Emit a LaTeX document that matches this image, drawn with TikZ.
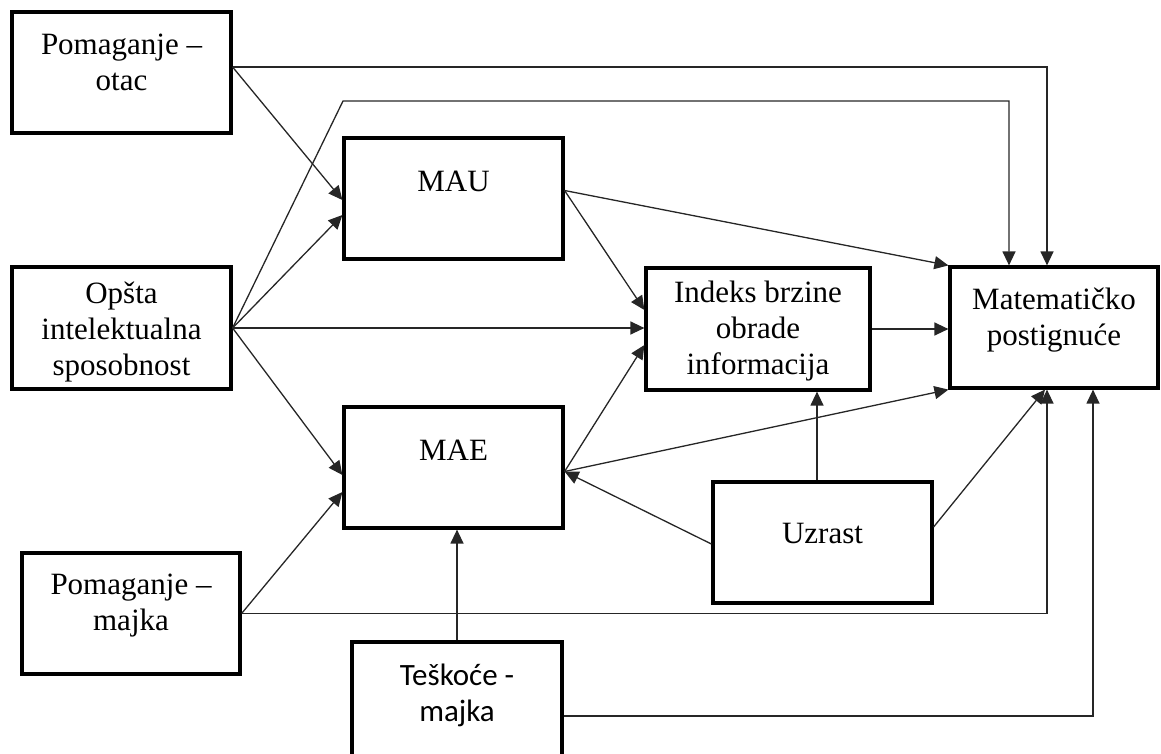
\documentclass[tikz,border=0pt]{standalone}
\usepackage{fontspec}
\setmainfont{Liberation Serif}
\newfontfamily\calibrifont{Carlito}
\usetikzlibrary{arrows.meta}
\begin{document}
\begin{tikzpicture}[x=1pt,y=-1pt,
  box/.style={draw, line width=3.2pt, inner sep=0pt},
  lbl/.style={align=center, inner sep=0pt, font=\fontsize{31}{36}\selectfont},
  link/.style={line width=1.3pt, draw=black!85},
  arr/.style={link, -{Triangle[length=14pt,width=13pt]}},
]
\useasboundingbox (0,0) rectangle (1161,753);
\clip (0,0) rectangle (1161,753);

% boxes
\node[box, minimum width=219pt, minimum height=121pt] (otac)    at (121.5,72.5)  {};
\node[box, minimum width=219pt, minimum height=122pt] (opsta)   at (121.5,328)   {};
\node[box, minimum width=218pt, minimum height=121pt] (pmajka)  at (131,613.5)   {};
\node[box, minimum width=219pt, minimum height=121pt] (mau)     at (453.5,198.5) {};
\node[box, minimum width=219pt, minimum height=121pt] (mae)     at (453.5,467.5) {};
\node[box, minimum width=224pt, minimum height=122pt] (indeks)  at (758,329)     {};
\node[box, minimum width=208pt, minimum height=121pt] (mat)     at (1054,327.5)  {};
\node[box, minimum width=219pt, minimum height=121pt] (uzrast)  at (822.5,542.5) {};
\node[box, minimum width=210pt, minimum height=122pt] (teskoce) at (457,703)     {};

% labels
\node[lbl] (otacT)    at (121.5,62)  {Pomaganje –\\otac};
\node[lbl] (opstaT)   at (121.5,332) {Opšta\\intelektualna\\sposobnost};
\node[lbl] (pmajkaT)  at (131,606)   {Pomaganje –\\majka};
\node[lbl] (mauT)     at (453.5,181) {MAU};
\node[lbl] (maeT)     at (453.5,450) {MAE};
\node[lbl] (indeksT)  at (758,331)   {Indeks brzine\\obrade\\informacija};
\node[lbl] (matT)     at (1054,320.5) {Matematičko\\postignuće};
\node[lbl] (uzrastT)  at (822.5,533.5) {Uzrast};
\node[lbl, font=\calibrifont\fontsize{31}{36}\selectfont] (teskoceT) at (457,695) {Teškoće -\\majka};

% bend point of the upper route from Opšta intelektualna sposobnost
\coordinate (topBend) at (343,101);

% connectors
\draw[arr] ([yshift=5.5pt]otac.east) -| ([xshift=-7pt]mat.north);
\draw[arr] ([yshift=5.5pt]otac.east) -- ([yshift=-1.5pt]mau.west);

\draw[arr] (opsta.east) -- ([yshift=-16.5pt]mau.west);
\draw[arr] (opsta.east) -- (topBend) -| ([xshift=-45pt]mat.north);
\draw[arr] (opsta.east) -- (opsta.east -| indeks.west);
\draw[arr] (opsta.east) -- ([yshift=-7.5pt]mae.west);

\draw[arr] (pmajka.east) -- ([yshift=-24.5pt]mae.west);
\draw[arr] (pmajka.east) -| ([xshift=-7pt]mat.south);

\draw[arr] ([yshift=8pt]mau.east) -- (mat.north west);
\draw[arr] ([yshift=8pt]mau.east) -- ([yshift=19pt]indeks.west);

\draw[arr] ([yshift=-4pt]mae.east) -- ([yshift=-16pt]indeks.west);
\draw[arr] ([yshift=-4pt]mae.east) -- (mat.south west);

\draw[arr] (indeks.east) -- (indeks.east -| mat.west);

\draw[arr] ([xshift=-5.5pt]uzrast.north) -- ([xshift=-5.5pt]uzrast.north |- indeks.south);
\draw[arr] ([yshift=-1.5pt]uzrast.west) -- ([yshift=-4pt]mae.east);
\draw[arr] ([yshift=15.5pt]uzrast.east) -- ([xshift=-9pt]mat.south);

\draw[arr] (teskoce.north) -- (teskoce.north |- mae.south);
\draw[arr] ([yshift=-13pt]teskoce.east) -| ([xshift=39pt]mat.south);
\end{tikzpicture}
\end{document}
